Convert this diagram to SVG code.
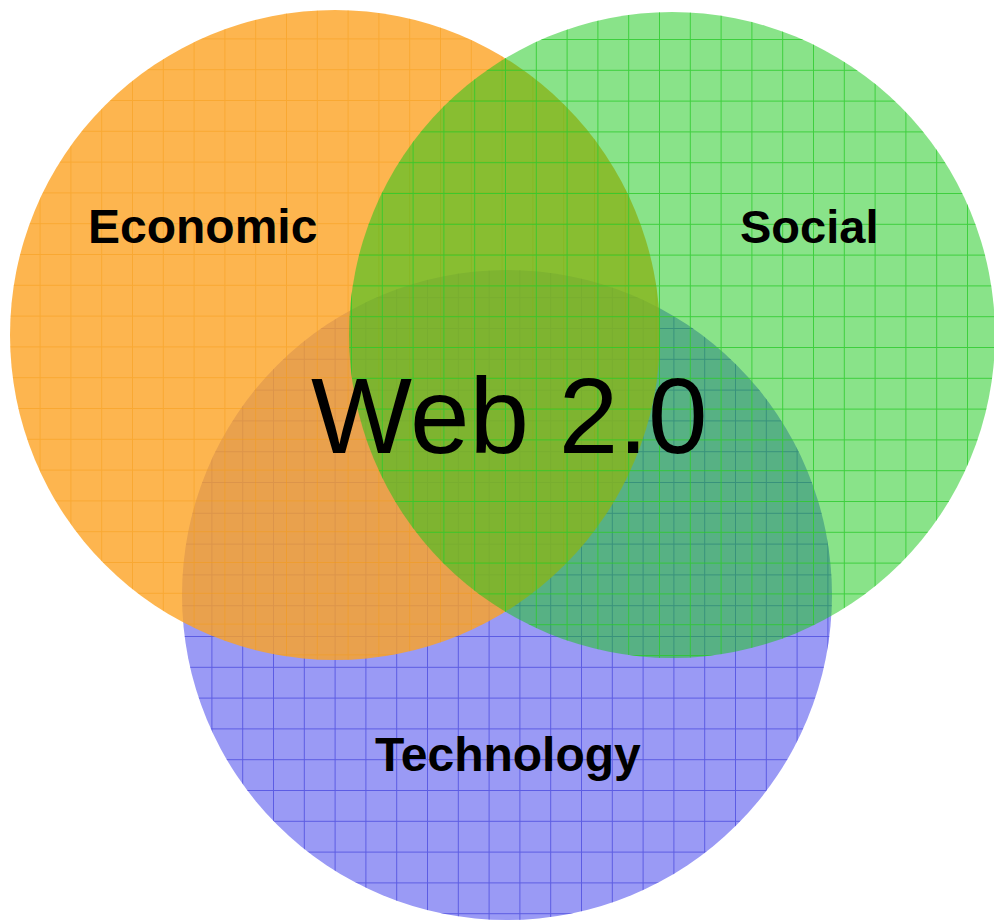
<svg xmlns="http://www.w3.org/2000/svg" width="994" height="921" viewBox="0 0 994 921">
  <defs>
    <pattern id="gridBlue" patternUnits="userSpaceOnUse" x="26.6" y="20" width="30.8" height="30.8">
      <path d="M0.5 0V30.8M0 0.5H30.8" fill="none" stroke="#4646DC" stroke-width="1" stroke-opacity="0.75"/>
    </pattern>
    <pattern id="gridOrange" patternUnits="userSpaceOnUse" x="8.8" y="7.6" width="30.8" height="30.8">
      <path d="M0.5 0V30.8M0 0.5H30.8" fill="none" stroke="#F59A10" stroke-width="1" stroke-opacity="0.45"/>
    </pattern>
    <pattern id="gridGreen" patternUnits="userSpaceOnUse" x="12.2" y="8.2" width="30.8" height="30.8">
      <path d="M0.5 0V30.8M0 0.5H30.8" fill="none" stroke="#2ACB2A" stroke-width="1" stroke-opacity="0.8"/>
    </pattern>
  </defs>
  <style>
    .lbl { font-family: "Liberation Sans", Arial, sans-serif; font-weight: bold; font-size: 48px; fill: #000; }
    .title { font-family: "Liberation Sans", Arial, sans-serif; font-size: 107px; fill: #000; }
  </style>
  <g id="technology">
    <circle cx="507" cy="595" r="325" fill="#9A9AF5"/>
    <circle cx="507" cy="595" r="325" fill="url(#gridBlue)"/>
    <text class="lbl" x="375" y="771">Technology</text>
  </g>
  <g id="economic">
    <circle cx="335" cy="335" r="325" fill="#FDA223" fill-opacity="0.8"/>
    <circle cx="335" cy="335" r="325" fill="url(#gridOrange)"/>
    <text class="lbl" x="88" y="243">Economic</text>
  </g>
  <g id="social">
    <circle cx="672" cy="335" r="323" fill="#14C814" fill-opacity="0.5"/>
    <circle cx="672" cy="335" r="323" fill="url(#gridGreen)"/>
    <text class="lbl" x="740" y="243" style="font-size:47px">Social</text>
  </g>
  <g id="web20">
    <text class="title" x="311" y="453">Web 2.0</text>
  </g>
  <g id="connectors"/>
</svg>
